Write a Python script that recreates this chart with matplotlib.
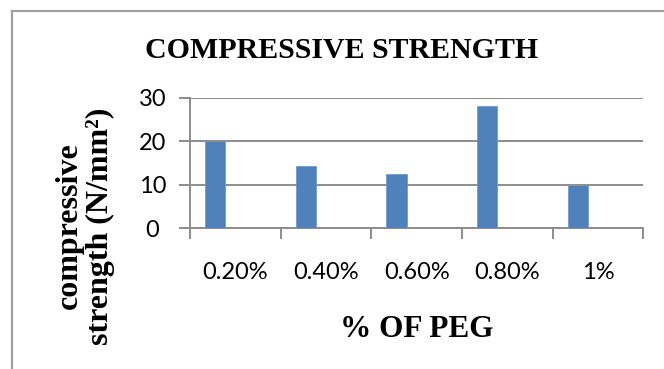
import matplotlib
matplotlib.use("Agg")
import matplotlib.pyplot as plt
from matplotlib.lines import Line2D
import numpy as np

# Compressive strength for each PEG dosage
categories = ["0.20%", "0.40%", "0.60%", "0.80%", "1%"]
strength = [20.0, 14.2, 12.5, 28.0, 10.0]
y_ticks = [0, 10, 20, 30]

W, H, DPI = 664, 369, 100
fig = plt.figure(figsize=(W / DPI, H / DPI), dpi=DPI)
fig.patch.set_facecolor("white")

# Outer chart frame (left and top edges)
frame_color = "#a0a0a0"
fig.add_artist(Line2D([12 / W, 12 / W], [0, 1 - 11 / H], transform=fig.transFigure,
                      color=frame_color, lw=1.6))
fig.add_artist(Line2D([12 / W, 1], [1 - 11 / H, 1 - 11 / H], transform=fig.transFigure,
                      color=frame_color, lw=1.6))

left, right = 190 / W, 643.3 / W
bottom, top = 1 - 228.3 / H, 1 - 97.7 / H
ax = fig.add_axes([left, bottom, right - left, top - bottom])

x = np.arange(len(categories))
bar_w = 0.222
ax.bar(x - bar_w, strength, width=bar_w, color="#4f81bd", edgecolor="#6f9bd0",
       linewidth=0.6, zorder=3)

grid_color = "#8c8c8c"
ax.set_xlim(-0.5, len(categories) - 0.5)
ax.set_ylim(0, 30)
ax.set_yticks(y_ticks)
ax.yaxis.grid(True, color=grid_color, lw=1.4, zorder=0)
ax.set_axisbelow(True)

for side in ("top", "right"):
    ax.spines[side].set_visible(False)
for side in ("left", "bottom"):
    ax.spines[side].set_color(grid_color)
    ax.spines[side].set_linewidth(1.4)

tick_font = {"family": "Lato", "size": 17}
ax.set_yticklabels([str(v) for v in y_ticks], fontdict=tick_font)
ax.tick_params(axis="y", length=8, width=1.4, color=grid_color, pad=19)
for lab in ax.get_yticklabels():
    lab.set_horizontalalignment("center")

ax.set_xticks(x)
ax.set_xticklabels(categories, fontdict=tick_font)
ax.tick_params(axis="x", which="major", length=0, pad=24)
ax.set_xticks(np.arange(len(categories) + 1) - 0.5, minor=True)
ax.tick_params(axis="x", which="minor", length=8, width=1.4, color=grid_color)

serif_bold = {"family": "Liberation Serif", "weight": "bold"}
fig.text(341.5 / W, 1 - 58 / H, "COMPRESSIVE STRENGTH", ha="center", va="baseline",
         fontsize=21.5, **serif_bold)
fig.text(417 / W, 1 - 337 / H, "% OF PEG", ha="center", va="baseline",
         fontsize=22.5, **serif_bold)
fig.text(85 / W, 1 - 226 / H, "compressive\nstrength (N/mm²)", ha="center", va="center",
         rotation=90, multialignment="center", linespacing=1.12, fontsize=23, **serif_bold)

fig.savefig("out.png", dpi=DPI, facecolor="white")
